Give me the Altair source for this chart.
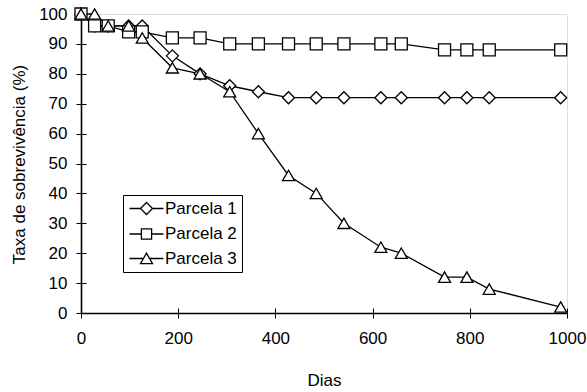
import altair as alt
import pandas as pd

days = [0, 28, 56, 98, 126, 188, 245, 306, 365, 427, 484, 541, 617, 659, 748, 794, 840, 987]
parcela1 = [100, 96, 96, 96, 96, 86, 80, 76, 74, 72, 72, 72, 72, 72, 72, 72, 72, 72]
parcela2 = [100, 96, 96, 94, 94, 92, 92, 90, 90, 90, 90, 90, 90, 90, 88, 88, 88, 88]
parcela3 = [100, 100, 96, 96, 92, 82, 80, 74, 60, 46, 40, 30, 22, 20, 12, 12, 8, 2]

series = ["Parcela 1", "Parcela 2", "Parcela 3"]
x_ticks = [0, 200, 400, 600, 800, 1000]
y_ticks = [0, 10, 20, 30, 40, 50, 60, 70, 80, 90, 100]

rows = []
for name, vals in zip(series, [parcela1, parcela2, parcela3]):
    for d, v in zip(days, vals):
        rows.append({"dias": d, "taxa": v, "serie": name})
df = pd.DataFrame(rows)

FONT = "Liberation Sans"
FS = 17
xscale = alt.Scale(domain=[0, 1000], nice=False, zero=False)
yscale = alt.Scale(domain=[0, 100], nice=False)

base = alt.Chart(df)

lines = base.mark_line(color="black", strokeWidth=1.3).encode(
    x=alt.X("dias:Q", scale=xscale, title="Dias",
            axis=alt.Axis(values=x_ticks, format="d", orient="bottom", tickSize=5, tickWidth=1,
                          tickColor="black", domainColor="black", domainWidth=1.6, grid=False,
                          labelFont=FONT, labelFontSize=FS, labelColor="black", labelPadding=12,
                          labelFlush=False,
                          titleFont=FONT, titleFontSize=FS, titleFontWeight="normal", titleColor="black",
                          titleY=72, titleBaseline="alphabetic", titleAlign="center")),
    y=alt.Y("taxa:Q", scale=yscale, title="Taxa de sobrevivência (%)",
            axis=alt.Axis(values=y_ticks, format="d", orient="left", tickSize=5, tickWidth=1,
                          tickColor="black", domainColor="black", domainWidth=1.6, grid=False,
                          labelFont=FONT, labelFontSize=FS, labelColor="black", labelPadding=9,
                          labelFlush=False,
                          titleFont=FONT, titleFontSize=FS, titleFontWeight="normal", titleColor="black",
                          titleX=-62, titleY=150, titleAngle=-90, titleBaseline="middle",
                          titleAlign="center")),
    detail="serie:N",
)

points = base.mark_point(filled=True, fill="white", stroke="black", strokeWidth=1.3,
                         size=144, opacity=1).encode(
    x=alt.X("dias:Q", scale=xscale,
            axis=alt.Axis(values=x_ticks, orient="bottom", offset=-5, tickSize=5, tickWidth=1,
                          tickColor="black", domain=False, labels=False, grid=False, title=None)),
    y=alt.Y("taxa:Q", scale=yscale,
            axis=alt.Axis(values=y_ticks, orient="left", offset=-5, tickSize=5, tickWidth=1,
                          tickColor="black", domain=False, labels=False, grid=False, title=None)),
    shape=alt.Shape("serie:N", scale=alt.Scale(domain=series, range=["diamond", "square", "triangle-up"]),
                    legend=None),
)

legend_shapes = [
    "M-2.83,0L-1,0M1,0L2.83,0M0,-1L1,0L0,1L-1,0Z",
    "M-2.83,0L-0.85,0M0.85,0L2.83,0M-0.85,-0.85L0.85,-0.85L0.85,0.85L-0.85,0.85Z",
    "M-2.83,0L-0.5,0M0.5,0L2.83,0M0,-0.9L1,0.85L-1,0.85Z",
]

legend_layer = base.transform_filter("false").mark_point(
    filled=False, color="black", fill="white", strokeWidth=1.3, size=144, opacity=1
).encode(
    x=alt.X("dias:Q", scale=xscale, axis=None),
    y=alt.Y("taxa:Q", scale=yscale, axis=None),
    shape=alt.Shape("serie:N", scale=alt.Scale(domain=series, range=legend_shapes),
                    legend=alt.Legend(title=None, orient="none", legendX=42, legendY=181,
                                      strokeColor="black", fillColor="white", padding=5,
                                      labelFont=FONT, labelFontSize=FS, labelColor="black",
                                      symbolOffset=10, labelOffset=10, symbolSize=144,
                                      symbolStrokeWidth=1.3, rowPadding=6.5)),
)

chart = alt.layer(lines, points, legend_layer).resolve_axis(
    x="independent", y="independent"
).resolve_scale(shape="independent").properties(
    width=486, height=299,
    autosize=alt.AutoSizeParams(type="none"),
    padding={"left": 81, "top": 14, "right": 20, "bottom": 79},
).configure_view(stroke=None).configure(background="white")

chart.save("out.html", embed_options={"renderer": "svg", "actions": False})
